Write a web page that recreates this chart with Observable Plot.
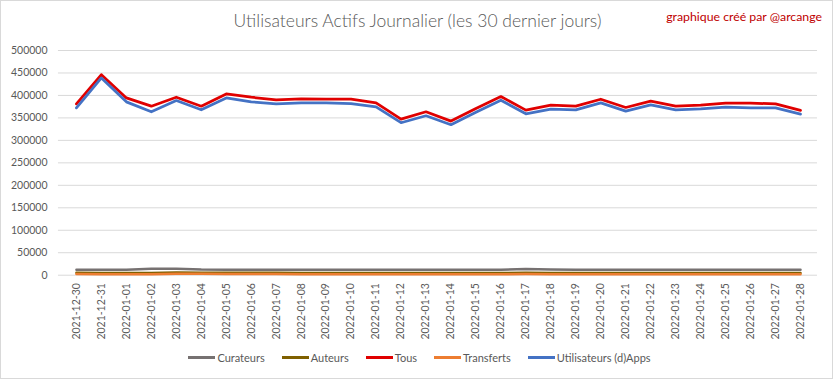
<!DOCTYPE html>
<html>
<head>
<meta charset="utf-8">
<script src="https://cdn.jsdelivr.net/npm/d3@7"></script>
<script src="https://cdn.jsdelivr.net/npm/@observablehq/plot@0.6"></script>
<style>
  body { margin: 0; background: #fff; }
  #wrap { position: relative; width: 833px; height: 379px; box-sizing: border-box; border: 1px solid #d9d9d9; background: #fff; overflow: hidden; font-family: Lato, "Open Sans", sans-serif; }
  #title { position: absolute; left: 0; width: 833px; top: 9px; text-align: center; font-size: 17.5px; font-weight: 300; color: #595959; }
  #credit { position: absolute; right: 10px; top: 8px; font-size: 12.3px; color: #c00000; }
  #chart { position: absolute; left: -1px; top: 39px; }
  #legend { position: absolute; left: 0; width: 833px; top: 350px; display: flex; justify-content: center; gap: 17px; font-size: 11px; color: #595959; padding-left: 4px; box-sizing: border-box; }
  #legend .item { display: flex; align-items: center; gap: 2px; }
  #legend .sw { width: 27px; height: 3px; display: inline-block; }
</style>
</head>
<body>
<div id="wrap">
  <div id="title">Utilisateurs Actifs Journalier (les 30 dernier jours)</div>
  <div id="credit">graphique créé par @arcange</div>
  <div id="chart"></div>
  <div id="legend"></div>
</div>
<script>
const dates = ["2021-12-30","2021-12-31","2022-01-01","2022-01-02","2022-01-03","2022-01-04","2022-01-05","2022-01-06","2022-01-07","2022-01-08","2022-01-09","2022-01-10","2022-01-11","2022-01-12","2022-01-13","2022-01-14","2022-01-15","2022-01-16","2022-01-17","2022-01-18","2022-01-19","2022-01-20","2022-01-21","2022-01-22","2022-01-23","2022-01-24","2022-01-25","2022-01-26","2022-01-27","2022-01-28"];

const curateurs = [12000,12000,12000,14500,14500,12500,12000,12000,12000,12000,12000,12000,12000,12000,12000,12000,12000,12000,14000,12500,12000,12000,12000,12000,12000,12000,12000,12000,12000,12000];
const auteurs = [5500,5000,5000,5000,6000,5500,5500,5500,5500,5000,5000,5000,5000,5000,5000,5000,5000,5000,5500,5000,5000,5000,5000,5000,5000,5000,5000,5000,5000,5000];
const tous = [381200,446200,394500,376100,396000,376100,403400,396000,390100,392300,391600,391600,383500,347300,363600,342900,371000,397500,367300,378300,376100,391600,373200,387200,376100,378300,382800,382800,381200,366600];
const transferts = [2500,2000,2000,2000,3500,3000,2500,2500,2500,2000,2000,2000,2000,2000,2000,2000,2000,2000,2500,2000,2000,2000,2000,2000,2000,2000,2000,2000,2000,2000];
const apps = [372400,438800,385700,363600,388600,368000,394500,385700,381200,383400,383400,382000,374600,339300,354700,334800,362800,389400,359100,369500,368000,383400,365000,379000,368000,370200,373900,372400,372400,358400];

const seriesNames = ["Curateurs","Auteurs","Tous","Transferts","Utilisateurs (d)Apps"];
const seriesColors = ["#767171","#7f6000","#e00000","#ed7d31","#4472c4"];
const yTicks = [0,50000,100000,150000,200000,250000,300000,350000,400000,450000,500000];

const seriesValues = [curateurs, auteurs, tous, transferts, apps];
const rows = [];
seriesNames.forEach((name, s) => {
  dates.forEach((d, i) => rows.push({date: d, value: seriesValues[s][i], series: name}));
});

const chart = Plot.plot({
  width: 833,
  height: 300,
  marginTop: 10,
  marginBottom: 65,
  marginLeft: 58,
  marginRight: 15,
  style: {fontFamily: "Lato, 'Open Sans', sans-serif", fontSize: "10.5px", color: "#595959", background: "transparent"},
  x: {type: "point", domain: dates, padding: 0.5},
  y: {domain: [0, 500000]},
  color: {domain: seriesNames, range: seriesColors},
  marks: [
    Plot.ruleY(yTicks, {stroke: "#d9d9d9", strokeWidth: 1}),
    Plot.axisY({ticks: yTicks, tickFormat: d => String(d), tickSize: 0, tickPadding: 11, label: null, fill: "#595959"}),
    Plot.axisX({tickRotate: -90, tickSize: 0, tickPadding: 8, label: null, fill: "#595959"}),
    Plot.line(rows.filter(r => r.series === "Curateurs" || r.series === "Auteurs" || r.series === "Transferts"), {x: "date", y: "value", stroke: "series", z: "series", strokeWidth: 2.5, curve: "linear"}),
    Plot.line(rows.filter(r => r.series === "Tous" || r.series === "Utilisateurs (d)Apps"), {x: "date", y: "value", stroke: "series", z: "series", strokeWidth: 2.75, curve: "linear"})
  ]
});
document.getElementById("chart").appendChild(chart);

const legend = document.getElementById("legend");
seriesNames.forEach((name, i) => {
  const item = document.createElement("div");
  item.className = "item";
  const sw = document.createElement("span");
  sw.className = "sw";
  sw.style.background = seriesColors[i];
  const t = document.createElement("span");
  t.textContent = name;
  item.appendChild(sw);
  item.appendChild(t);
  legend.appendChild(item);
});
</script>
</body>
</html>
